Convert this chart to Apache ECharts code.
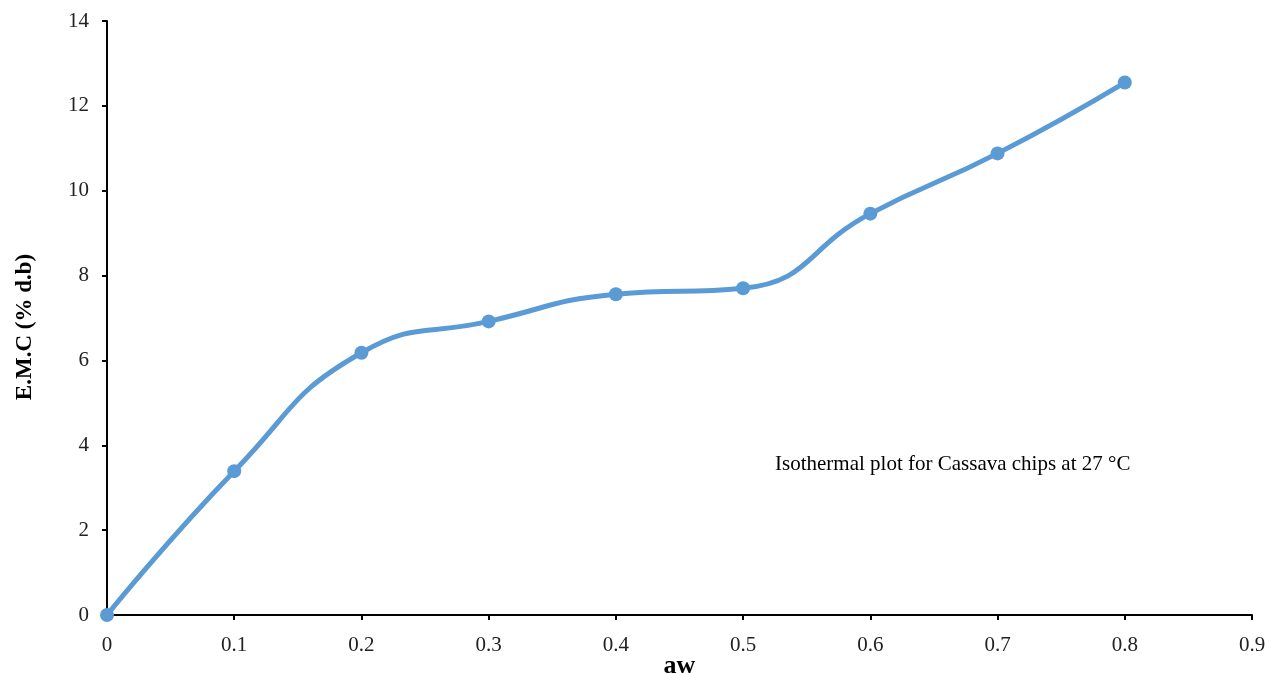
<!DOCTYPE html>
<html>
<head>
<meta charset="utf-8">
<script src="https://cdn.jsdelivr.net/npm/echarts@6/dist/echarts.min.js"></script>
<style>
  html, body { margin: 0; padding: 0; background: #fff; }
  #chart { width: 1281px; height: 673px; }
</style>
</head>
<body>
<div id="chart"></div>
<script>
// Water activity (aw) and equilibrium moisture content (% dry basis)
const aw = [0, 0.1, 0.2, 0.3, 0.4, 0.5, 0.6, 0.7, 0.8];
const emc = [0, 3.39, 6.18, 6.92, 7.56, 7.70, 9.46, 10.88, 12.55];
const xTicks = [0, 0.1, 0.2, 0.3, 0.4, 0.5, 0.6, 0.7, 0.8, 0.9];
const yTicks = [0, 2, 4, 6, 8, 10, 12, 14];

const serif = '"Liberation Serif", "Times New Roman", serif';
const chart = echarts.init(document.getElementById('chart'));

chart.setOption({
  animation: false,
  grid: { left: 107, right: 29, top: 21, bottom: 58, containLabel: false, outerBoundsMode: 'none' },
  xAxis: {
    type: 'value',
    min: xTicks[0],
    max: xTicks[xTicks.length - 1],
    interval: 0.1,
    name: 'aw',
    nameLocation: 'middle',
    nameGap: 38,
    nameMoveOverlap: false,
    nameTextStyle: { fontFamily: serif, fontSize: 26, fontWeight: 'bold', color: '#000' },
    axisLine: { lineStyle: { color: '#000', width: 2 } },
    axisTick: { show: true, length: 5, lineStyle: { color: '#000', width: 2 } },
    axisLabel: {
      fontFamily: serif, fontSize: 21, color: '#222', margin: 20,
      formatter: v => (Math.round(v * 10) / 10).toString()
    },
    splitLine: { show: false }
  },
  yAxis: {
    type: 'value',
    min: yTicks[0],
    max: yTicks[yTicks.length - 1],
    interval: 2,
    name: 'E.M.C (% d.b)',
    nameLocation: 'middle',
    nameGap: 70,
    nameTextStyle: {
      fontFamily: serif, fontSize: 23, fontWeight: 'bold', color: '#000',
      padding: [0, 18, 0, 0]
    },
    axisLine: { show: true, lineStyle: { color: '#000', width: 2 } },
    axisTick: { show: true, length: 5, lineStyle: { color: '#000', width: 2 } },
    axisLabel: { fontFamily: serif, fontSize: 21, color: '#222', margin: 18 },
    splitLine: { show: false }
  },
  series: [{
    type: 'line',
    data: aw.map((x, i) => [x, emc[i]]),
    smooth: 0.5,
    symbol: 'circle',
    symbolSize: 14,
    showAllSymbol: true,
    lineStyle: { color: '#5B9BD5', width: 5 },
    itemStyle: { color: '#5B9BD5' },
    clip: false
  }],
  graphic: [{
    type: 'text',
    left: 775,
    top: 454,
    style: {
      text: 'Isothermal plot for Cassava chips at 27 °C',
      font: '21px ' + serif,
      fill: '#000'
    }
  }]
});
</script>
</body>
</html>
